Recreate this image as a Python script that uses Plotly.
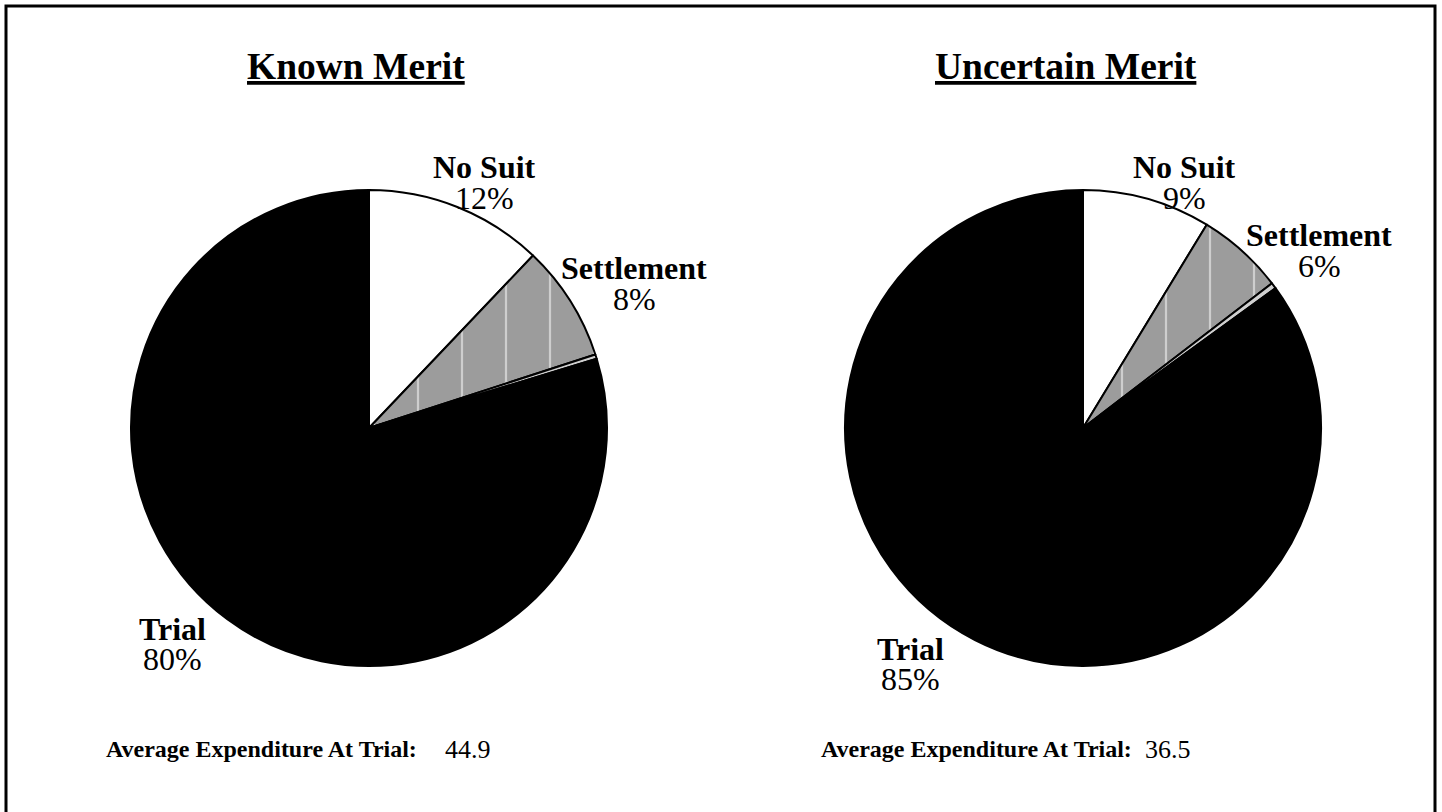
import plotly.graph_objects as go

W, H = 1442, 812

# ---- data ----
categories = ["No Suit", "Settlement", "Other", "Trial"]
known_values = [12.1, 7.9, 0.3, 79.7]
uncertain_values = [8.7, 5.9, 0.4, 85.0]
panel_titles = ["Known Merit", "Uncertain Merit"]
avg_label = "Average Expenditure At Trial:"
avg_values = [44.9, 36.5]

slice_colors = ["white", "#9c9c9c", "#d0d0d0", "black"]
pattern_shapes = ["", "|", "", ""]


def px_x(x):
    return x / W


def px_y(y):
    return 1 - y / H


fig = go.Figure()

pie_boxes = [(131, 607, 190, 666), (845, 1321, 190, 666)]
for vals, (x0, x1, y0, y1) in zip([known_values, uncertain_values], pie_boxes):
    fig.add_trace(go.Pie(
        labels=categories,
        values=vals,
        sort=False,
        direction="clockwise",
        rotation=0,
        textinfo="none",
        hoverinfo="skip",
        showlegend=False,
        domain=dict(x=[px_x(x0), px_x(x1)], y=[px_y(y1), px_y(y0)]),
        marker=dict(
            colors=slice_colors,
            line=dict(color="black", width=2),
            pattern=dict(shape=pattern_shapes, fgcolor="white", bgcolor="#9c9c9c",
                         size=44, solidity=0.05, fillmode="overlay"),
        ),
    ))

annotations = []
# titles
for title, cx in zip(panel_titles, [356, 1066]):
    annotations.append(dict(x=px_x(cx), y=px_y(67), xref="paper", yref="paper",
                            text=f"<b><u>{title}</u></b>", showarrow=False,
                            font=dict(size=37.5, color="black"),
                            xanchor="center", yanchor="middle"))

# slice labels (name bold, percent regular)
label_pos = [
    {"No Suit": (484, 167), "Settlement": (634, 268), "Trial": (172, 628)},
    {"No Suit": (1184, 167), "Settlement": (1319, 235), "Trial": (910, 648)},
]
for vals, pos in zip([known_values, uncertain_values], label_pos):
    total = sum(vals)
    for cat, v in zip(categories, vals):
        if cat not in pos:
            continue
        lx, ly = pos[cat]
        annotations.append(dict(x=px_x(lx), y=px_y(ly), xref="paper", yref="paper",
                                text=f"<b>{cat}</b>", showarrow=False,
                                font=dict(size=32, color="black"), height=29,
                                xanchor="center", yanchor="middle"))
        annotations.append(dict(x=px_x(lx), y=px_y(ly + 30), xref="paper", yref="paper",
                                text=f"{round(100 * v / total)}%", showarrow=False,
                                font=dict(size=32, color="black"), height=29,
                                xanchor="center", yanchor="middle"))

# average expenditure
for lx, vx, val in zip([104, 819], [468, 1168], avg_values):
    annotations.append(dict(x=px_x(lx), y=px_y(749), xref="paper", yref="paper",
                            text=f"<b>{avg_label}</b>", showarrow=False,
                            font=dict(size=24, color="black"),
                            xanchor="left", yanchor="middle"))
    annotations.append(dict(x=px_x(vx), y=px_y(749), xref="paper", yref="paper",
                            text=f"{val}", showarrow=False,
                            font=dict(size=26, color="black"),
                            xanchor="center", yanchor="middle"))

fig.update_layout(
    width=W, height=H,
    margin=dict(l=0, r=0, t=0, b=0),
    paper_bgcolor="white", plot_bgcolor="white",
    font=dict(family="Liberation Serif", color="black"),
    annotations=annotations,
    shapes=[dict(type="rect", xref="paper", yref="paper",
                 x0=px_x(6), x1=px_x(1435), y0=-0.02, y1=px_y(6),
                 line=dict(color="black", width=3), fillcolor="rgba(0,0,0,0)")],
)

fig.write_html("out.html", config={"displayModeBar": False},
               post_script="document.body.style.margin='0';document.body.style.overflow='hidden';")
